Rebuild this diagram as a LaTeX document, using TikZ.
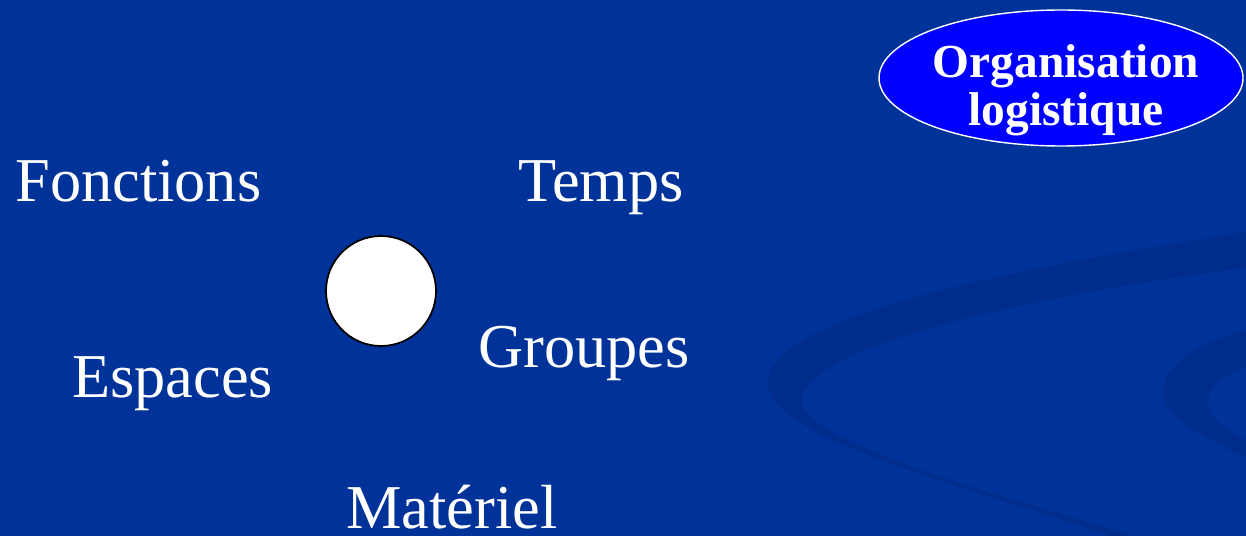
\documentclass[tikz,border=0pt]{standalone}
\usepackage{fontspec}
\setmainfont{Liberation Serif}
\usepackage{tikz}
\usetikzlibrary{shapes.geometric, positioning}
\definecolor{slidecolor}{RGB}{0,51,153}
\definecolor{swirlcolor}{RGB}{0,45,140}
\definecolor{titlecolor}{RGB}{0,0,255}

\begin{document}
\begin{tikzpicture}[
    x=0.02cm, y=-0.02cm,
    word/.style={anchor=base west, inner sep=0pt, text=white, font=\fontsize{35.5}{40}\selectfont},
    title/.style={ellipse, draw=white, fill=titlecolor, line width=0.8pt, inner sep=0pt},
    titletext/.style={text=white, align=center, inner sep=0pt, font=\bfseries\fontsize{27}{27.5}\selectfont},
    hub/.style={circle, draw=black, fill=white, line width=1pt, minimum size=110*0.02cm}
]
% background
\fill[slidecolor] (0,0) rectangle (1246,536);
\useasboundingbox (0,0) rectangle (1246,536);
\fill[swirlcolor] (1246,232) .. controls (1000,270) and (760,320) .. (768,385)
    .. controls (775,440) and (950,480) .. (1110,536) -- (1135,536)
    .. controls (980,490) and (800,440) .. (802,400)
    .. controls (805,350) and (1000,300) .. (1246,268) -- cycle;
\fill[swirlcolor] (1246,330) .. controls (1190,345) and (1160,370) .. (1163,395)
    .. controls (1166,420) and (1210,440) .. (1246,458) -- (1246,440)
    .. controls (1225,430) and (1205,415) .. (1208,400)
    .. controls (1210,385) and (1225,375) .. (1246,368) -- cycle;

\node (orga) [title, minimum width=364*0.02cm, minimum height=136*0.02cm] at (1061,78) {};
\node (orgatext) [titletext] at (1066,90) {Organisation\\logistique};

\node (centre) [hub] at (381,291) {};

\node (fonctions) [word] at (15,202) {Fonctions};
\node (temps) [word] at (518,202) {Temps};
\node (groupes) [word] at (478,368) {Groupes};
\node (espaces) [word] at (72,398) {Espaces};
\node (materiel) [word] at (346,528) {Matériel};
\end{tikzpicture}
\end{document}
